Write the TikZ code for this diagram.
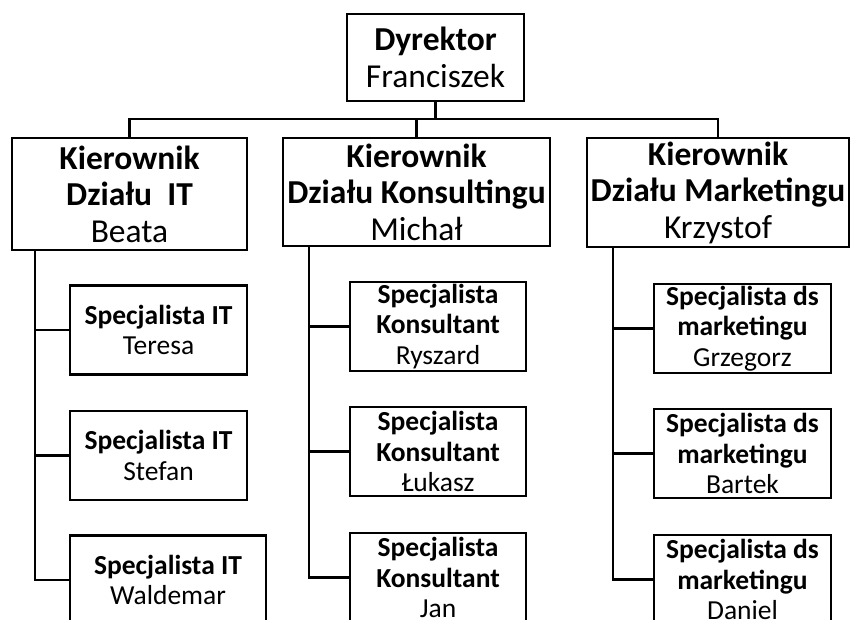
\documentclass[tikz,border=0pt]{standalone}
\usepackage{fontspec}
\setmainfont{Carlito}
\begin{document}
\begin{tikzpicture}[x=1pt,y=-1pt,
  box/.style={draw=black, line width=2.3pt, inner sep=0pt, align=center, fill=white},
  big/.style={box, font=\fontsize{33.5}{36.5}\selectfont},
  small/.style={box, font=\fontsize{27.5}{30.5}\selectfont, minimum width=177pt, minimum height=89pt},
  conn/.style={draw=black, line width=2.3pt}]
\useasboundingbox (0,0) rectangle (850,620);
\clip (0,0) rectangle (850,620);
% top
\node[big, minimum width=177pt, minimum height=87pt] (dyr) at (435.5,57.5) {\textbf{Dyrektor}\\Franciszek};
% managers
\node[big, minimum width=235pt, minimum height=112pt] (kit) at (129.5,194) {\textbf{Kierownik}\\\textbf{Działu\ \ IT}\\Beata};
\node[big, minimum width=267pt, minimum height=108pt] (kko) at (416.5,192) {\textbf{Kierownik}\\\textbf{Działu Konsultingu}\\Michał};
\node[big, minimum width=262pt, minimum height=109pt] (kmk) at (718,192.5) {\textbf{Kierownik}\\\textbf{Działu Marketingu}\\Krzystof};
% IT specialists
\node[small] (s1) at (158.5,330) {\textbf{Specjalista IT}\\Teresa};
\node[small] (s2) at (158.5,455.5) {\textbf{Specjalista IT}\\Stefan};
\node[small, minimum width=196pt] (s3) at (168,580) {\textbf{Specjalista IT}\\Waldemar};
% consultants
\node[small, minimum width=176pt] (c1) at (438,326.5) {\textbf{Specjalista}\\\textbf{Konsultant}\\Ryszard};
\node[small, minimum width=176pt] (c2) at (438,451.5) {\textbf{Specjalista}\\\textbf{Konsultant}\\Łukasz};
\node[small, minimum width=176pt] (c3) at (438,577.5) {\textbf{Specjalista}\\\textbf{Konsultant}\\Jan};
% marketing
\node[small] (m1) at (742.5,328.5) {\textbf{Specjalista ds}\\\textbf{marketingu}\\Grzegorz};
\node[small] (m2) at (742.5,453.5) {\textbf{Specjalista ds}\\\textbf{marketingu}\\Bartek};
\node[small] (m3) at (742.5,579.5) {\textbf{Specjalista ds}\\\textbf{marketingu}\\Daniel};
% bus
\coordinate (busL) at (129.5,119);
\coordinate (busR) at (718,119);
\draw[conn] (kit.north) -- (busL) -- (busR) -- (kmk.north);
\draw[conn] (dyr.south) -- (dyr.south |- busL);
\draw[conn] (kko.north) -- (kko.north |- busL);
% columns
\coordinate (colit) at ([xshift=24pt]kit.south west);
\coordinate (colko) at ([xshift=27pt]kko.south west);
\coordinate (colmk) at ([xshift=27pt]kmk.south west);
\draw[conn] (colit) |- (s3.west);
\draw[conn] (colit |- s1.west) -- (s1.west);
\draw[conn] (colit |- s2.west) -- (s2.west);
\draw[conn] (colko) |- (c3.west);
\draw[conn] (colko |- c1.west) -- (c1.west);
\draw[conn] (colko |- c2.west) -- (c2.west);
\draw[conn] (colmk) |- (m3.west);
\draw[conn] (colmk |- m1.west) -- (m1.west);
\draw[conn] (colmk |- m2.west) -- (m2.west);
\end{tikzpicture}
\end{document}
